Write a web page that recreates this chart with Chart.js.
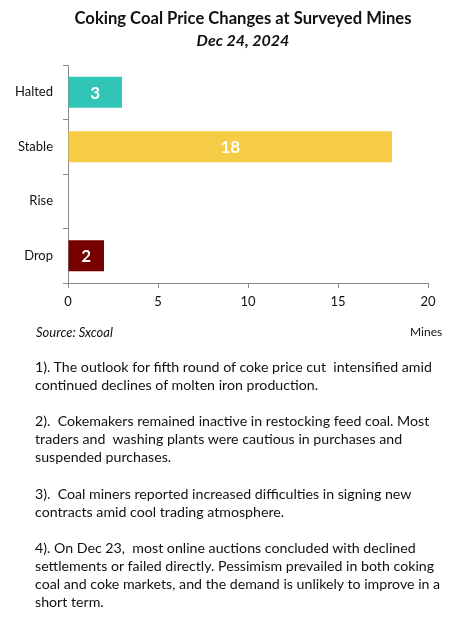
<!DOCTYPE html>
<html>
<head>
<meta charset="utf-8">
<script src="https://cdn.jsdelivr.net/npm/chart.js@4.4.1/dist/chart.umd.min.js"></script>
<style>
  body { margin: 0; background: #fff; font-family: Lato, "Open Sans", sans-serif; color: #111; }
  #wrap { position: relative; width: 462px; height: 635px; overflow: hidden; }
  #chartBox { position: absolute; left: 0; top: 0; width: 462px; height: 345px; }
  .title { position: absolute; left: 0; width: 486px; text-align: center; font-weight: bold; font-size: 16.6px; }
  .src { position: absolute; left: 36px; top: 324px; font-style: italic; font-size: 13px; }
  .unit { position: absolute; left: 410px; top: 324px; font-size: 12px; }
  #notes { position: absolute; left: 35px; top: 358px; font-size: 14.2px; line-height: 18.1px; white-space: nowrap; color: #111; }
  #notes p { margin: 0 0 18.1px 0; }
</style>
</head>
<body>
<div id="wrap">
  <div id="chartBox"><canvas id="coalChart"></canvas></div>
  <div class="title" style="top:8px;">Coking Coal Price Changes at Surveyed Mines</div>
  <div class="title" style="top:30px;font-style:italic;font-size:16px;">Dec 24, 2024</div>
  <div class="src">Source: Sxcoal</div>
  <div class="unit">Mines</div>
  <div id="notes">
    <p>1). The outlook for fifth round of coke price cut&nbsp; intensified amid<br>continued declines of molten iron production.</p>
    <p>2).&nbsp; Cokemakers remained inactive in restocking feed coal. Most<br>traders and&nbsp; washing plants were cautious in purchases and<br>suspended purchases.</p>
    <p>3).&nbsp; Coal miners reported increased difficulties in signing new<br>contracts amid cool trading atmosphere.</p>
    <p>4). On Dec 23,&nbsp; most online auctions concluded with declined<br>settlements or failed directly. Pessimism prevailed in both coking<br>coal and coke markets, and the demand is unlikely to improve in a<br>short term.</p>
  </div>
</div>
<script>
// data
const categories = ['Halted', 'Stable', 'Rise', 'Drop'];
const mineCounts = [3, 18, 0, 2];
const barColors = ['#30c5b7', '#f6cb45', '#e0e0e0', '#760000'];
const xTicks = [0, 5, 10, 15, 20];

// white number in the middle of each bar
const barLabels = {
    id: 'barLabels',
    afterDatasetsDraw(chart) {
        const ctx = chart.ctx;
        const meta = chart.getDatasetMeta(0);
        ctx.save();
        ctx.fillStyle = '#fff';
        ctx.font = 'bold 17px Lato, "Open Sans", sans-serif';
        ctx.textAlign = 'center';
        ctx.textBaseline = 'middle';
        meta.data.forEach((bar, i) => {
            const v = mineCounts[i];
            if (!v) return;
            const p = bar.getCenterPoint();
            ctx.fillText(String(v), p.x, p.y + 1);
        });
        ctx.restore();
    }
};

const ctx = document.getElementById('coalChart').getContext('2d');
let coalChart = new Chart(ctx, {
    type: 'bar',
    data: {
        labels: categories,
        datasets: [{
            data: mineCounts,
            backgroundColor: barColors,
            borderWidth: 0,
            barPercentage: 0.57,
            categoryPercentage: 1
        }]
    },
    options: {
        indexAxis: 'y',
        responsive: true,
        maintainAspectRatio: false,
        animation: false,
        layout: { padding: { left: 0, right: 34, top: 65, bottom: 0 } },
        plugins: { legend: { display: false }, tooltip: { enabled: false } },
        scales: {
            x: {
                min: 0, max: 20,
                afterBuildTicks: s => { s.ticks = xTicks.map(v => ({ value: v })); },
                afterFit: s => { s.height = 62; },
                grid: { drawOnChartArea: false, drawTicks: true, tickLength: 5, color: '#8a8a8a' },
                border: { color: '#8a8a8a', width: 1 },
                ticks: { color: '#111', padding: 6, font: { family: 'Lato, "Open Sans", sans-serif', size: 13 } }
            },
            y: {
                afterFit: s => { s.width = 68; },
                grid: { drawOnChartArea: false, drawTicks: true, tickLength: 5, color: '#8a8a8a', offset: true },
                border: { color: '#8a8a8a', width: 1 },
                ticks: { color: '#111', padding: 10, font: { family: 'Lato, "Open Sans", sans-serif', size: 13 } }
            }
        }
    },
    plugins: [barLabels]
});
</script>
</body>
</html>
